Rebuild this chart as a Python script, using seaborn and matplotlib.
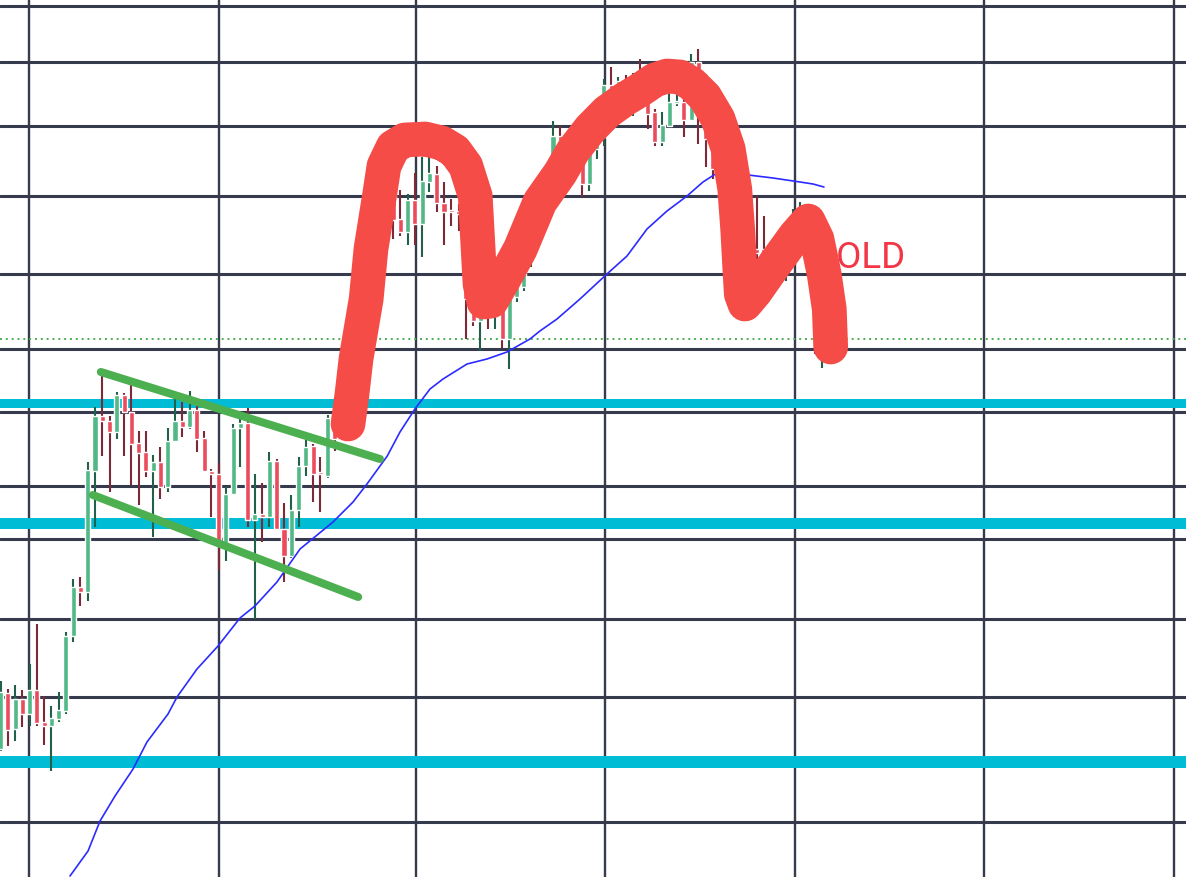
import numpy as np
import pandas as pd
import seaborn as sns
import matplotlib.pyplot as plt

# candles (price units, one per bar)
opens = [250, 306, 270, 300, 285, 309, 277, 273, 280, 288, 363, 412, 407, 528, 583, 578, 567, 604, 587, 556,
         547, 528, 537, 512, 558, 578, 572, 589, 561, 528, 525, 453, 505, 571, 576, 479, 485, 482, 538, 470,
         443, 489, 533, 553, 527, 523, 582, 580, 618, 668, 700, 740, 728, 788, 810, 780, 767, 799, 775, 817,
         825, 796, 789, 788, 785, 705, 678, 700, 685, 692, 660, 702, 712, 738, 768, 788, 825, 863, 845, 850,
         843, 815, 850, 862, 914, 890, 918, 895, 925, 903, 887, 857, 873, 896, 897, 879, 937, 920, 860, 835,
         800, 760, 730, 695, 750, 750, 720, 735, 735, 765, 770, 785, 755, 650]
highs = [318, 310, 314, 309, 335, 375, 303, 293, 307, 367, 420, 422, 537, 592, 625, 583, 607, 606, 614, 568,
         568, 544, 552, 571, 603, 597, 608, 593, 568, 530, 536, 512, 575, 587, 591, 525, 516, 547, 540, 496,
         504, 542, 561, 555, 542, 584, 590, 625, 678, 710, 750, 755, 800, 825, 820, 809, 805, 826, 842, 845,
         833, 817, 800, 795, 790, 710, 705, 715, 705, 700, 704, 721, 745, 768, 795, 820, 878, 873, 850, 855,
         850, 865, 882, 920, 932, 922, 924, 926, 940, 910, 890, 887, 905, 904, 900, 945, 950, 925, 865, 840,
         805, 770, 740, 730, 803, 783, 745, 760, 775, 790, 797, 790, 760, 670]
lows = [248, 253, 258, 272, 273, 273, 254, 228, 277, 285, 357, 393, 398, 472, 543, 507, 560, 543, 514, 494,
        522, 462, 500, 507, 557, 562, 570, 547, 528, 482, 429, 438, 504, 532, 472, 380, 457, 472, 470, 417,
        441, 472, 523, 497, 487, 521, 548, 575, 610, 660, 695, 710, 720, 780, 760, 763, 754, 754, 742, 807,
        787, 754, 773, 768, 660, 673, 648, 670, 670, 651, 630, 697, 708, 732, 765, 784, 820, 832, 813, 827,
        802, 808, 840, 853, 882, 885, 880, 883, 895, 870, 853, 853, 872, 893, 862, 878, 855, 832, 820, 790,
        750, 700, 678, 690, 730, 720, 708, 725, 718, 755, 760, 750, 645, 631]
closes = [307, 269, 300, 285, 309, 276, 273, 281, 289, 363, 412, 407, 529, 583, 578, 567, 604, 587, 555, 546,
          528, 537, 512, 558, 578, 572, 589, 560, 528, 525, 453, 505, 571, 576, 479, 485, 482, 538, 470, 443,
          489, 533, 552, 525, 525, 581, 560, 620, 670, 700, 740, 725, 790, 815, 779, 767, 799, 775, 818, 826,
          796, 787, 787, 785, 700, 678, 700, 685, 695, 660, 701, 712, 738, 760, 788, 815, 863, 840, 825, 835,
          815, 860, 875, 914, 890, 918, 895, 920, 903, 885, 857, 874, 897, 897, 879, 937, 925, 860, 830, 800,
          760, 710, 695, 725, 746, 730, 740, 755, 770, 785, 790, 755, 680, 660]
last_price = 660

# moving average, read at bar positions
ma_idx = [9.56, 12.04, 13.69, 15.75, 18.23, 20.15, 23.04, 24.28, 27.03, 29.92, 32.94, 35.0, 38.03, 41.2,
          45.74, 48.49, 50.41, 53.2, 54.95, 57.0, 59.08, 60.87, 64.17, 66.92, 69.67, 72.83, 74.2, 76.55,
          79.71, 83.42, 86.18, 88.93, 91.68, 94.43, 96.63, 98.56, 101.72, 106.26, 109.97, 111.76, 113.27]
ma_val = [123, 148, 178, 203, 230, 257, 285, 302, 330, 353, 381, 393, 417, 450,
          477, 497, 515, 543, 567, 590, 610, 620, 635, 640, 647, 660, 668, 680,
          700, 725, 743, 770, 788, 803, 817, 826, 825, 821, 817, 815, 812]

# drawings
levels = [596, 476, 237]
level_px = [9, 11, 12]
channel_top = ([13.8, 52.2], [627, 540])
channel_bot = ([12.7, 49.2], [504, 402])
marker_i = [47.8, 48.35, 48.9, 49.6, 50.3, 50.96, 52.06, 52.75, 54.0, 55.6, 58.4, 60.7, 62.5, 64.0, 65.3,
            65.7, 65.96, 66.5, 67.5, 69.1, 71.5, 74.2, 77.0, 78.75, 81.1, 83.4, 85.9, 87.96, 90.0, 91.7,
            93.5, 95.1, 96.9, 98.7, 100.1, 101.0, 101.4, 101.7, 101.9, 102.4, 103.8, 106.5, 109.3, 111.1,
            112.3, 113.3, 114.0, 114.2]
marker_p = [575, 605, 640, 670, 700, 750, 800, 833, 852, 859, 860, 856, 848, 833, 803,
            750, 715, 697, 698, 718, 750, 797, 826, 848, 870, 887, 900, 909, 919, 923,
            922, 915, 902, 880, 850, 810, 770, 730, 705, 695, 707, 735, 763, 778,
            760, 725, 690, 652]

grid_x = [3.92, 30.06, 57.15, 83.15, 109.29, 135.28, 161.42]
grid_y = [993, 937, 873, 803, 725, 650, 587, 513, 460, 380, 302, 177]

sns.set_theme(style='white')
fig = plt.figure(figsize=(11.86, 8.78), dpi=100)
ax = fig.add_axes([0, 0, 1, 1])
ax.set_xlim(-0.07, 163.07)
ax.set_ylim(122, 1000)
ax.axis('off')

for gx in grid_x:
    ax.axvline(gx, color='#363a4d', lw=1.7, zorder=1)
for gy in grid_y:
    ax.axhline(gy, color='#363a4d', lw=2.2, zorder=1)
for lv, w in zip(levels, level_px):
    ax.axhline(lv, color='#00bcd4', lw=w * 0.72, zorder=2)
ax.axhline(last_price, color='#4caf50', lw=1.4, ls=(0, (1, 2)), zorder=2)

df = pd.DataFrame({'open': opens, 'high': highs, 'low': lows, 'close': closes})
df['idx'] = np.arange(len(df))
up = df['close'] >= df['open']
ax.vlines(df['idx'], df['low'], df['high'],
          colors=np.where(up, '#22604a', '#7d2a38'), lw=1.5, zorder=3)
ax.bar(df['idx'], np.maximum((df['close'] - df['open']).abs(), 2),
       bottom=np.minimum(df['open'], df['close']), width=0.7,
       color=np.where(up, '#52b886', '#eb4c5b'), zorder=4)

sns.lineplot(x=ma_idx, y=ma_val, sort=False, color='#2b2bff', lw=1.2, ax=ax, zorder=5)

for xs, ys in (channel_top, channel_bot):
    ax.plot(xs, ys, color='#4caf50', lw=5.8, solid_capstyle='round', zorder=6)

ax.text(111.6, 732, 'GOLD', color='#f23645', fontsize=26.5, family=['Roboto', 'DejaVu Sans'],
        ha='left', va='baseline', zorder=7)

ax.plot(marker_i, marker_p, color='#f54c48', lw=25, solid_capstyle='round',
        solid_joinstyle='round', zorder=10)

fig.savefig('out.png', dpi=100)
